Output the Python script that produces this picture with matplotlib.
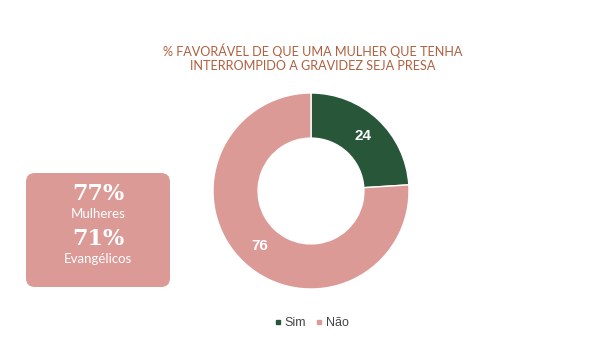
import matplotlib
matplotlib.use("Agg")
import matplotlib.pyplot as plt
from matplotlib.patches import FancyBboxPatch
from matplotlib.lines import Line2D

categories = ["Sim", "Não"]
values = [24, 76]
colors = ["#285638", "#dc9a96"]
title = "% FAVORÁVEL DE QUE UMA MULHER QUE TENHA\nINTERROMPIDO A GRAVIDEZ SEJA PRESA"
box_values = ["77%", "71%"]
box_labels = ["Mulheres", "Evangélicos"]

W, H = 603, 354
fig = plt.figure(figsize=(W / 100, H / 100), dpi=100)
fig.patch.set_facecolor("white")

# background pixel-coordinate axes for the box
bg = fig.add_axes([0, 0, 1, 1])
bg.set_xlim(0, W)
bg.set_ylim(H, 0)
bg.axis("off")
bx0, by0, bx1, by1 = 26, 173, 170, 287
rs = 9
box = FancyBboxPatch((bx0 + rs, by0 + rs), (bx1 - bx0 - 2 * rs), (by1 - by0 - 2 * rs),
                     boxstyle=f"round,pad={rs},rounding_size={rs}",
                     facecolor="#dc9a96", edgecolor="none")
bg.add_patch(box)
bxc = (bx0 + bx1) / 2
bg.text(bxc, 194, box_values[0], ha="center", va="center", fontsize=16,
        fontweight="heavy", family="DejaVu Serif", color="white")
bg.text(bxc, 214, box_labels[0], ha="center", va="center", fontsize=9.5,
        family="Lato", color="white")
bg.text(bxc, 239, box_values[1], ha="center", va="center", fontsize=16,
        fontweight="heavy", family="DejaVu Serif", color="white")
bg.text(bxc, 259, box_labels[1], ha="center", va="center", fontsize=9.5,
        family="Lato", color="white")

# title
bg.text(313, 58, title, ha="center", va="center", fontsize=9.1,
        color="#b0603f", family="Lato", linespacing=1.25)

# donut
cx, cy, r = 311, 191, 98
ax = fig.add_axes([(cx - r) / W, (H - cy - r) / H, 2 * r / W, 2 * r / H])
wedges, texts = ax.pie(values, colors=colors, startangle=90, counterclock=False,
                       radius=1, wedgeprops=dict(width=0.46, edgecolor="white", linewidth=1),
                       labels=[str(v) for v in values], labeldistance=0.77,
                       textprops=dict(color="white", fontsize=11, fontweight="bold",
                                      family="Liberation Sans", ha="center", va="center"))
ax.set_xlim(-1, 1)
ax.set_ylim(-1, 1)
ax.set_aspect("equal")
ax.axis("off")

# legend
handles = [Line2D([], [], marker="s", linestyle="", markersize=3.5, color=c) for c in colors]
leg = fig.legend(handles, categories, loc="center", bbox_to_anchor=(312 / W, 1 - 323 / H),
                 ncol=2, frameon=False, handlelength=0.5, handletextpad=0.3,
                 columnspacing=0.8, prop={"family": "Liberation Sans", "size": 9})
for t in leg.get_texts():
    t.set_color("#444444")

fig.savefig("out.png", dpi=100, facecolor="white")
